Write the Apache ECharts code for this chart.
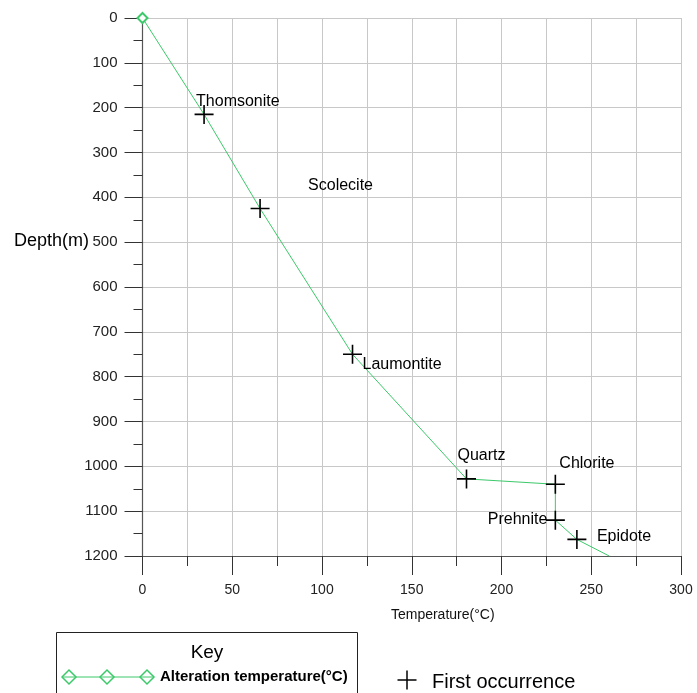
<!DOCTYPE html>
<html>
<head>
<meta charset="utf-8">
<title>Alteration temperature vs depth</title>
<script src="https://cdn.jsdelivr.net/npm/echarts@6/dist/echarts.min.js"></script>
<style>
  html, body { margin: 0; padding: 0; background: #fff; }
  #chart { width: 697px; height: 693px; }
</style>
</head>
<body>
<div id="chart"></div>
<script>
// Alteration temperature profile (temperature in °C, depth in m)
var profileTemp  = [0, 34.3, 65.5, 117, 180.5, 230, 230, 242, 260];
var profileDepth = [0, 215, 425, 750, 1028, 1040, 1120, 1163, 1200];

// First occurrence of each alteration mineral
var mineralNames = ['Thomsonite', 'Scolecite', 'Laumontite', 'Quartz', 'Chlorite', 'Prehnite', 'Epidote'];
var mineralTemp  = [34.3, 65.5, 117, 180.5, 230, 230, 242];
var mineralDepth = [215, 425, 750, 1028, 1040, 1120, 1163];

// Axis tick values
var tempTicks  = [0, 50, 100, 150, 200, 250, 300];
var depthTicks = [0, 100, 200, 300, 400, 500, 600, 700, 800, 900, 1000, 1100, 1200];

// Where each mineral name sits relative to its cross
var labelPlacement = [
  { align: 'left',  offset: [-8, -13] },
  { align: 'left',  offset: [48, -23] },
  { align: 'left',  offset: [10, 10] },
  { align: 'left',  offset: [-9, -23] },
  { align: 'left',  offset: [4, -21] },
  { align: 'right', offset: [-8, -1] },
  { align: 'left',  offset: [20, -3] }
];

var FONT = '"Liberation Sans", Arial, Helvetica, sans-serif';
var GREEN = '#3cc96a';
var PLUS_PATH = 'path://M0,10L20,10M10,0L10,20';

var lineData = profileTemp.map(function (t, i) {
  var item = { value: [t, profileDepth[i]] };
  if (i === 0) {
    item.symbol = 'emptyDiamond';
    item.symbolSize = 10;
  } else {
    item.symbol = 'none';
  }
  return item;
});

var crossData = mineralNames.map(function (name, i) {
  var p = labelPlacement[i];
  return {
    name: name,
    value: [mineralTemp[i], mineralDepth[i]],
    label: { align: p.align, offset: p.offset }
  };
});

function plainNumber(v) { return String(v); }

var chart = echarts.init(document.getElementById('chart'), null, { renderer: 'canvas' });

chart.setOption({
  backgroundColor: '#ffffff',
  animation: false,
  grid: { left: 142.5, right: 16, top: 18, bottom: 137, containLabel: false, outerBoundsMode: 'none' },
  xAxis: {
    type: 'value',
    min: tempTicks[0],
    max: tempTicks[tempTicks.length - 1],
    interval: 50,
    position: 'bottom',
    name: 'Temperature(°C)',
    nameLocation: 'middle',
    nameGap: 52,
    nameTextStyle: { fontFamily: FONT, fontSize: 14, color: '#111', padding: [0, 0, 0, 62] },
    axisLine: { onZero: false, lineStyle: { color: '#555', width: 1.2 } },
    axisTick: { inside: false, length: 19, lineStyle: { color: '#333', width: 1 } },
    minorTick: { show: true, splitNumber: 2, length: 10, lineStyle: { color: '#333', width: 1 } },
    axisLabel: { margin: 27, fontFamily: FONT, fontSize: 14, color: '#222', formatter: plainNumber },
    splitLine: { show: true, lineStyle: { color: '#c8c8c8', width: 1 } },
    minorSplitLine: { show: true, lineStyle: { color: '#c8c8c8', width: 1 } }
  },
  yAxis: {
    type: 'value',
    inverse: true,
    min: depthTicks[0],
    max: depthTicks[depthTicks.length - 1],
    interval: 100,
    axisLine: { lineStyle: { color: '#555', width: 1.2 } },
    axisTick: { inside: false, length: 18, lineStyle: { color: '#333', width: 1 } },
    minorTick: { show: true, splitNumber: 2, length: 9, lineStyle: { color: '#333', width: 1 } },
    axisLabel: { margin: 25, fontFamily: FONT, fontSize: 15, color: '#222', formatter: plainNumber },
    splitLine: { show: true, lineStyle: { color: '#c8c8c8', width: 1 } },
    minorSplitLine: { show: false }
  },
  series: [
    {
      name: 'Alteration temperature(°C)',
      type: 'line',
      data: lineData,
      clip: false,
      lineStyle: { color: GREEN, width: 1 },
      itemStyle: { color: GREEN, borderColor: GREEN, borderWidth: 1.5 },
      z: 2
    },
    {
      name: 'First occurrence',
      type: 'scatter',
      data: crossData,
      symbol: PLUS_PATH,
      symbolSize: 19,
      itemStyle: { color: 'transparent', borderColor: '#000', borderWidth: 1.6, opacity: 1 },
      label: {
        show: true,
        position: 'inside',
        verticalAlign: 'middle',
        formatter: '{b}',
        fontFamily: FONT,
        fontSize: 16,
        color: '#000'
      },
      emphasis: { disabled: true },
      z: 3
    }
  ],
  graphic: [
    // Depth axis title
    {
      type: 'text',
      x: 89, y: 241,
      style: { text: 'Depth(m)', font: '18px ' + FONT, fill: '#000', textAlign: 'right', textVerticalAlign: 'middle' }
    },
    // Key box
    {
      type: 'rect',
      shape: { x: 56.5, y: 632.5, width: 301, height: 80 },
      style: { fill: 'none', stroke: '#222', lineWidth: 1 }
    },
    {
      type: 'text',
      x: 207, y: 653,
      style: { text: 'Key', font: '19px ' + FONT, fill: '#000', textAlign: 'center', textVerticalAlign: 'middle' }
    },
    {
      type: 'line',
      shape: { x1: 62, y1: 677, x2: 154, y2: 677 },
      style: { stroke: GREEN, lineWidth: 1 }
    },
    {
      type: 'polygon',
      shape: { points: [[62, 677], [69, 670], [76, 677], [69, 684]] },
      style: { fill: 'none', stroke: GREEN, lineWidth: 1.5 }
    },
    {
      type: 'polygon',
      shape: { points: [[100, 677], [107, 670], [114, 677], [107, 684]] },
      style: { fill: 'none', stroke: GREEN, lineWidth: 1.5 }
    },
    {
      type: 'polygon',
      shape: { points: [[140, 677], [147, 670], [154, 677], [147, 684]] },
      style: { fill: 'none', stroke: GREEN, lineWidth: 1.5 }
    },
    {
      type: 'text',
      x: 160, y: 677,
      style: { text: 'Alteration temperature(°C)', font: 'bold 15px ' + FONT, fill: '#000', textAlign: 'left', textVerticalAlign: 'middle' }
    },
    // First-occurrence marker key
    {
      type: 'line',
      shape: { x1: 397.5, y1: 680, x2: 416.5, y2: 680 },
      style: { stroke: '#000', lineWidth: 1.5 }
    },
    {
      type: 'line',
      shape: { x1: 407, y1: 670.5, x2: 407, y2: 689.5 },
      style: { stroke: '#000', lineWidth: 1.5 }
    },
    {
      type: 'text',
      x: 432, y: 682,
      style: { text: 'First occurrence', font: '20px ' + FONT, fill: '#000', textAlign: 'left', textVerticalAlign: 'middle' }
    }
  ]
});
</script>
</body>
</html>
